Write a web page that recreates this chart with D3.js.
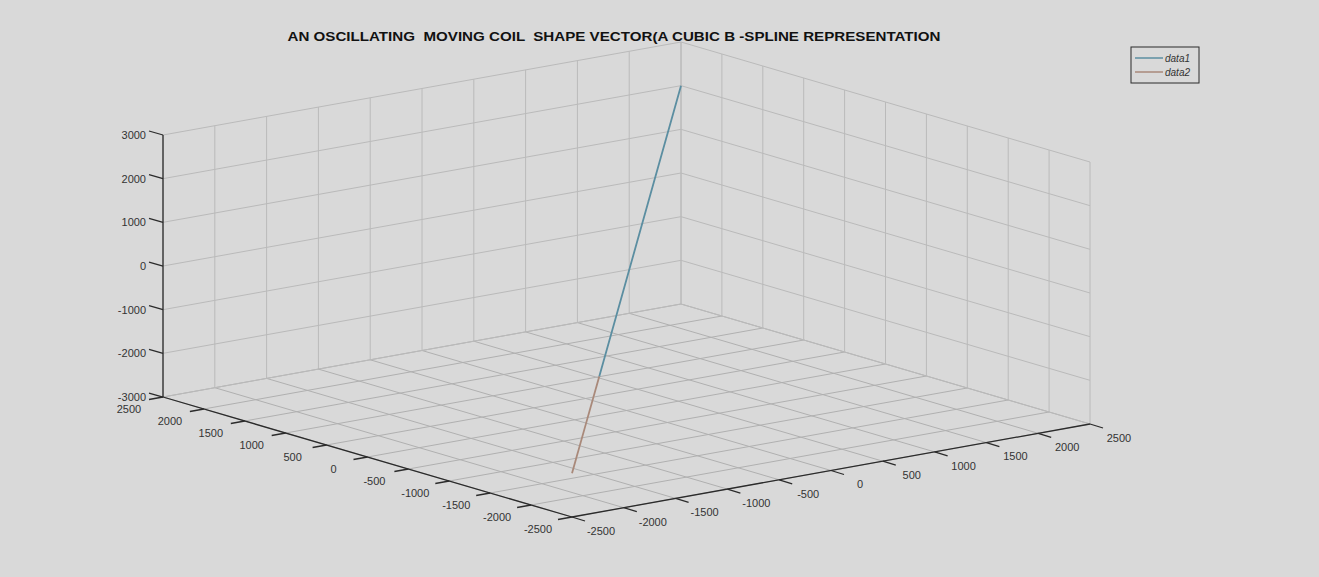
<!DOCTYPE html>
<html>
<head>
<meta charset="utf-8">
<script src="https://cdn.jsdelivr.net/npm/d3@7"></script>
<style>
    body { margin: 0; background: #d9d9d9; }
    svg { display: block; font-family: "Liberation Sans", Arial, sans-serif; }
</style>
</head>
<body>
<div id="coil-chart"></div>
<script>
// chart values
const chartTitle = "AN OSCILLATING  MOVING COIL  SHAPE VECTOR(A CUBIC B -SPLINE REPRESENTATION";
const xTicks = [-2500, -2000, -1500, -1000, -500, 0, 500, 1000, 1500, 2000, 2500];
const yTicks = [-2500, -2000, -1500, -1000, -500, 0, 500, 1000, 1500, 2000, 2500];
const zTicks = [-3000, -2000, -1000, 0, 1000, 2000, 3000];
const seriesNames = ["data1", "data2"];
// data1 (upper part of the vector)
const data1X = [-1250, 0, 1250, 2500];
const data1Y = [-1250, 0, 1250, 2500];
const data1Z = [-1000, 0, 1000, 2000];
// data2 (lower part of the vector)
const data2X = [-2500, -1875, -1250];
const data2Y = [-2500, -1875, -1250];
const data2Z = [-2000, -1500, -1000];

class CoilChart {

    constructor() {
        this.initVis();
    }

    initVis() {
        let vis = this;

        vis.width = 1319;
        vis.height = 577;

        vis.svg = d3.select("#coil-chart")
            .append("svg")
            .attr("width", vis.width)
            .attr("height", vis.height);

        vis.svg.append("rect")
            .attr("width", vis.width)
            .attr("height", vis.height)
            .attr("fill", "#d9d9d9");

        // screen position of the front floor corner
        vis.origin = [572, 517];

        // each axis moves the point in screen x and y (orthographic view)
        vis.xsx = d3.scaleLinear().domain([-2500, 2500]).range([0, 518]);
        vis.xsy = d3.scaleLinear().domain([-2500, 2500]).range([0, -93]);
        vis.ysx = d3.scaleLinear().domain([-2500, 2500]).range([0, -409]);
        vis.ysy = d3.scaleLinear().domain([-2500, 2500]).range([0, -120]);
        vis.zs = d3.scaleLinear().domain([-3000, 3000]).range([0, -262]);

        vis.wrangleData();
    }

    proj(x, y, z) {
        let vis = this;
        return [
            vis.origin[0] + vis.xsx(x) + vis.ysx(y),
            vis.origin[1] + vis.xsy(x) + vis.ysy(y) + vis.zs(z)
        ];
    }

    wrangleData() {
        let vis = this;

        vis.series = [
            {name: seriesNames[0], color: "#5b8ea1", pts: data1X.map((d, i) => [d, data1Y[i], data1Z[i]])},
            {name: seriesNames[1], color: "#a9897a", pts: data2X.map((d, i) => [d, data2Y[i], data2Z[i]])}
        ];

        vis.updateVis();
    }

    updateVis() {
        let vis = this;
        let seg = (a, b) => "M" + vis.proj(...a) + "L" + vis.proj(...b);

        let zMin = zTicks[0], zMax = zTicks[zTicks.length - 1];
        let xMin = xTicks[0], xMax = xTicks[xTicks.length - 1];
        let yMin = yTicks[0], yMax = yTicks[yTicks.length - 1];

        // grid lines on the floor and the two back walls
        let grid = [];
        xTicks.forEach(x => {
            grid.push({d: seg([x, yMin, zMin], [x, yMax, zMin]), floor: true});
            grid.push({d: seg([x, yMax, zMin], [x, yMax, zMax]), floor: false});
        });
        yTicks.forEach(y => {
            grid.push({d: seg([xMin, y, zMin], [xMax, y, zMin]), floor: true});
            grid.push({d: seg([xMax, y, zMin], [xMax, y, zMax]), floor: false});
        });
        zTicks.forEach(z => {
            grid.push({d: seg([xMin, yMax, z], [xMax, yMax, z]), floor: false});
            grid.push({d: seg([xMax, yMax, z], [xMax, yMin, z]), floor: false});
        });

        vis.svg.append("g")
            .selectAll("path")
            .data(grid)
            .enter()
            .append("path")
            .attr("d", d => d.d)
            .attr("fill", "none")
            .attr("stroke", d => d.floor ? "#b0b0b0" : "#bababa")
            .attr("stroke-width", 1);

        // axis lines
        let axes = vis.svg.append("g")
            .attr("stroke", "#2b2b2b")
            .attr("stroke-width", 1.3)
            .attr("fill", "none");
        axes.append("path").attr("d", seg([xMin, yMax, zMin], [xMin, yMax, zMax]));
        axes.append("path").attr("d", seg([xMin, yMin, zMin], [xMin, yMax, zMin]));
        axes.append("path").attr("d", seg([xMin, yMin, zMin], [xMax, yMin, zMin]));

        // plain hyphen for negatives, like the original
        let fmt = d => String(d);

        // z axis ticks and labels
        zTicks.forEach(z => {
            let p = vis.proj(xMin, yMax, z);
            axes.append("path").attr("d", "M" + p + "l-14,-4");
            vis.svg.append("text")
                .attr("x", p[0] - 17)
                .attr("y", p[1])
                .attr("dy", "0.35em")
                .attr("text-anchor", "end")
                .attr("font-size", "11px")
                .attr("fill", "#333")
                .text(fmt(z));
        });

        // left axis (y) ticks and labels
        yTicks.forEach(y => {
            let p = vis.proj(xMin, y, zMin);
            axes.append("path").attr("d", "M" + p + "l-14,2.5");
            vis.svg.append("text")
                .attr("x", p[0] - 34)
                .attr("y", p[1] + 12)
                .attr("dy", "0.35em")
                .attr("text-anchor", "middle")
                .attr("font-size", "11px")
                .attr("fill", "#333")
                .text(fmt(y));
        });

        // right axis (x) ticks and labels
        xTicks.forEach(x => {
            let p = vis.proj(x, yMin, zMin);
            axes.append("path").attr("d", "M" + p + "l13,4");
            vis.svg.append("text")
                .attr("x", p[0] + 29)
                .attr("y", p[1] + 14)
                .attr("dy", "0.35em")
                .attr("text-anchor", "middle")
                .attr("font-size", "11px")
                .attr("fill", "#333")
                .text(fmt(x));
        });

        // draw the vector
        let line = d3.line()
            .x(d => vis.proj(...d)[0])
            .y(d => vis.proj(...d)[1]);

        vis.svg.append("g")
            .selectAll("path")
            .data(vis.series)
            .enter()
            .append("path")
            .attr("d", d => line(d.pts))
            .attr("fill", "none")
            .attr("stroke", d => d.color)
            .attr("stroke-width", 1.8);

        // title
        vis.svg.append("text")
            .attr("x", 614)
            .attr("y", 41)
            .attr("text-anchor", "middle")
            .attr("font-size", "12px")
            .attr("font-weight", "bold")
            .attr("fill", "#111")
            .attr("textLength", 653)
            .attr("lengthAdjust", "spacingAndGlyphs")
            .style("white-space", "pre")
            .text(chartTitle);

        // legend
        let legend = vis.svg.append("g").attr("transform", "translate(1131, 47)");
        legend.append("rect")
            .attr("width", 68)
            .attr("height", 36)
            .attr("fill", "#d9d9d9")
            .attr("stroke", "#2b2b2b")
            .attr("stroke-width", 1);

        vis.series.forEach((s, i) => {
            legend.append("line")
                .attr("x1", 4).attr("x2", 32)
                .attr("y1", 11 + i * 14).attr("y2", 11 + i * 14)
                .attr("stroke", s.color)
                .attr("stroke-width", 1.5);
            legend.append("text")
                .attr("x", 34)
                .attr("y", 11 + i * 14)
                .attr("dy", "0.35em")
                .attr("font-size", "10px")
                .attr("font-style", "italic")
                .attr("fill", "#333")
                .text(s.name);
        });
    }
}

new CoilChart();
</script>
</body>
</html>
